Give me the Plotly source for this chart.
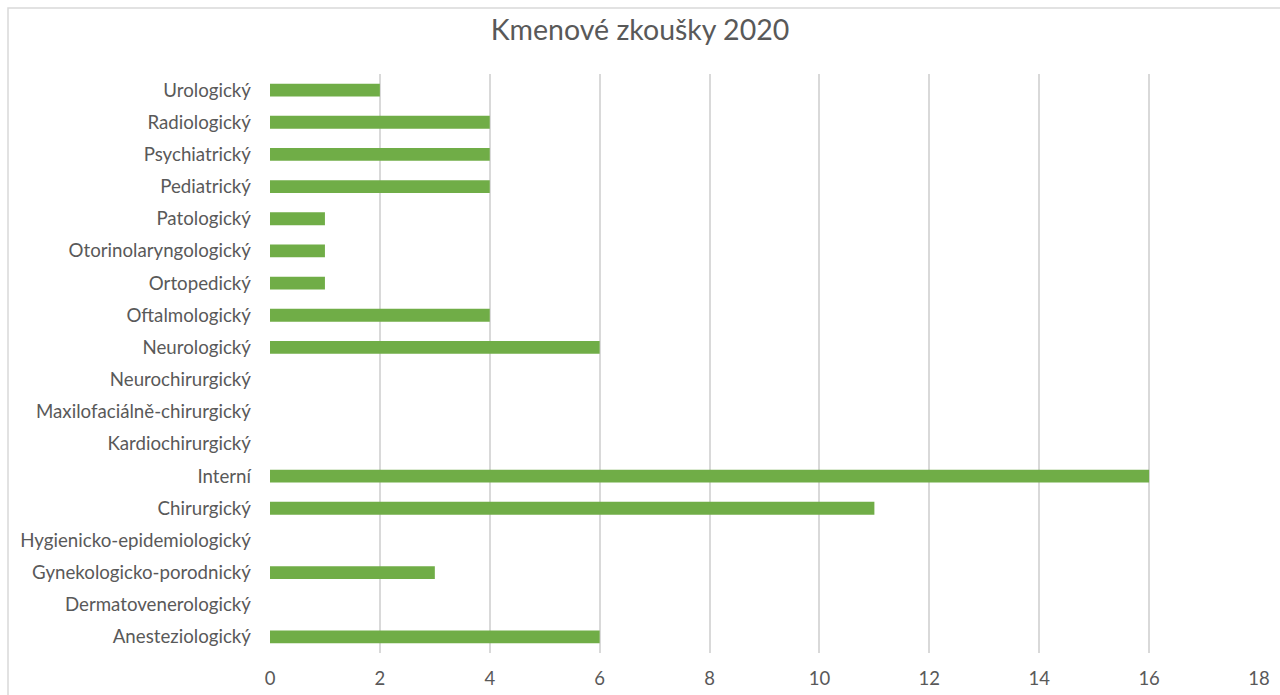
import plotly.graph_objects as go

# Exam counts per specialisation (bottom-to-top order on the y axis)
obory = [
    "Anesteziologický",
    "Dermatovenerologický",
    "Gynekologicko-porodnický",
    "Hygienicko-epidemiologický",
    "Chirurgický",
    "Interní",
    "Kardiochirurgický",
    "Maxilofaciálně-chirurgický",
    "Neurochirurgický",
    "Neurologický",
    "Oftalmologický",
    "Ortopedický",
    "Otorinolaryngologický",
    "Patologický",
    "Pediatrický",
    "Psychiatrický",
    "Radiologický",
    "Urologický",
]
pocty = [6, 0, 3, 0, 11, 16, 0, 0, 0, 6, 4, 1, 1, 1, 4, 4, 4, 2]
x_ticks = [0, 2, 4, 6, 8, 10, 12, 14, 16, 18]

FONT = "Lato, 'Open Sans', sans-serif"
TEXT = "#595959"
GRID = "#d9d9d9"

fig = go.Figure(
    go.Bar(
        x=pocty,
        y=obory,
        orientation="h",
        marker=dict(color="#70ad47", line=dict(width=0)),
        hoverinfo="x+y",
    )
)

fig.update_layout(
    width=1280,
    height=695,
    margin=dict(l=270, r=21, t=74, b=42, autoexpand=False),
    paper_bgcolor="white",
    plot_bgcolor="white",
    bargap=0.6,
    showlegend=False,
    title=dict(
        text="Kmenové zkoušky 2020",
        x=0.5,
        xanchor="center",
        y=1 - 30 / 695,
        yanchor="middle",
        font=dict(family=FONT, size=28.5, color=TEXT),
    ),
    xaxis=dict(
        range=[0, 18],
        tickvals=x_ticks,
        showgrid=True,
        gridcolor=GRID,
        gridwidth=2,
        zeroline=False,
        showline=False,
        ticks="",
        automargin=False,
        tickfont=dict(family=FONT, size=18.5, color=TEXT),
        ticklabelstandoff=12,
    ),
    yaxis=dict(
        type="category",
        categoryorder="array",
        categoryarray=obory,
        showgrid=False,
        zeroline=False,
        showline=False,
        ticks="",
        automargin=False,
        tickfont=dict(family=FONT, size=18.7, color=TEXT),
        ticklabelstandoff=18,
    ),
    shapes=[
        dict(
            type="rect",
            xref="paper",
            yref="paper",
            x0=-262 / 989,
            x1=1.05,
            y0=-0.2,
            y1=1 + 66 / 579,
            line=dict(color=GRID, width=1.5),
            fillcolor="rgba(0,0,0,0)",
            layer="below",
        )
    ],
)

fig.write_html("out.html")
